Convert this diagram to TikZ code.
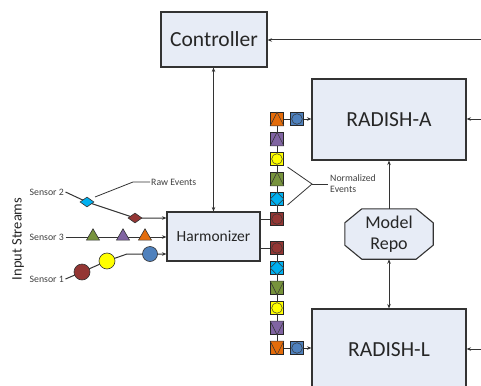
\documentclass[tikz,border=0pt]{standalone}
\usepackage{fontspec}
\setmainfont{Carlito}
\usetikzlibrary{arrows.meta,shapes.geometric}
\pgfdeclarelayer{bg}
\pgfsetlayers{bg,main}

\definecolor{boxC}{HTML}{E7ECF6}
\definecolor{lineC}{HTML}{333333}
\definecolor{textC}{HTML}{262626}
\definecolor{lblC}{HTML}{404040}
\definecolor{evOrange}{HTML}{E46C0A}
\definecolor{evPurple}{HTML}{8064A2}
\definecolor{evYellow}{HTML}{FFFF00}
\definecolor{evGreen}{HTML}{77933C}
\definecolor{evCyan}{HTML}{00B0F0}
\definecolor{evRed}{HTML}{943634}
\definecolor{evBlue}{HTML}{4F81BD}

% event symbols stacked in the normalized streams
\newcommand\evtri[3]{\node[evbox,fill=#3] (#1) at #2 {};
  \filldraw[evmark,fill=#3] (#1.south west) -- (#1.north) -- (#1.south east) -- cycle;}
\newcommand\evinv[3]{\node[evbox,fill=#3] (#1) at #2 {};
  \filldraw[evmark,fill=#3] (#1.north west) -- (#1.south) -- (#1.north east) -- cycle;}
\newcommand\evdot[3]{\node[evbox,fill=#3] (#1) at #2 {};
  \filldraw[evmark,fill=#3] (#1.center) circle[radius=5.3pt];}
\newcommand\evdia[3]{\node[evbox,fill=#3] (#1) at #2 {};
  \filldraw[evmark,fill=#3] (#1.north) -- (#1.east) -- (#1.south) -- (#1.west) -- cycle;}

\begin{document}
\begin{tikzpicture}[x=1pt,y=-1pt,
  box/.style={draw=lineC, line width=1.1pt, fill=boxC, inner sep=0pt, text=textC,
    font=\fontsize{21.5}{25}\selectfont},
  conn/.style={draw=lineC, line width=1pt},
  thin conn/.style={draw=lineC, line width=0.8pt},
  tip/.style={-{Stealth[length=4.5pt,width=3.5pt]}},
  tips/.style={{Stealth[length=4.5pt,width=3.5pt]}-{Stealth[length=4.5pt,width=3.5pt]}},
  evbox/.style={draw=black!85, line width=0.6pt, minimum size=13pt, inner sep=0pt},
  evmark/.style={draw=black!80, line width=0.5pt},
  lbl/.style={text=lblC, inner sep=1.5pt, font=\fontsize{9.8}{11}\selectfont},
  sym/.style={draw=black!80, line width=0.6pt, inner sep=0pt}]

\useasboundingbox (0,0) rectangle (481,385);

% main blocks
\node[box, minimum width=106pt, minimum height=55pt] (ctrl) at (214,39.5) {Controller};
\node[box, minimum width=154pt, minimum height=81pt] (ra) at (389,119.5) {RADISH-A};
\node[box, minimum width=154pt, minimum height=82pt] (rl) at (389,350) {RADISH-L};
\node[box, minimum width=93pt, minimum height=49pt,
  font=\fontsize{15.5}{18}\selectfont] (harm) at (213.5,236.5) {Harmonizer};
\node[inner sep=0pt, minimum width=88pt, minimum height=50pt, align=center, text=textC,
  font=\fontsize{18}{21.5}\selectfont] (repo) at (389,234) {Model\\Repo};

% free ends of the incoming control lines
\coordinate (eC) at (481,40);
\coordinate (eA) at (481,119);
\coordinate (eL) at (481,349);

% sensors and their raw event streams
\node[lbl, anchor=east] (s2) at (65.5,192) {Sensor 2};
\node[lbl, anchor=east] (s3) at (65.5,237) {Sensor 3};
\node[lbl, anchor=east] (s1) at (65.5,279) {Sensor 1};
\node[text=textC, rotate=90, font=\fontsize{14.5}{17}\selectfont] (inp) at (18,239) {Input Streams};

\node[sym, diamond, fill=evCyan, minimum width=14pt, minimum height=10pt] (d1) at (87,202) {};
\node[sym, diamond, fill=evRed, minimum width=14pt, minimum height=10pt] (d2) at (135,218) {};
\node[sym, regular polygon, regular polygon sides=3, minimum size=15pt, fill=evGreen] (t1) at (93,236.3) {};
\node[sym, regular polygon, regular polygon sides=3, minimum size=15pt, fill=evPurple] (t2) at (123,236.3) {};
\node[sym, regular polygon, regular polygon sides=3, minimum size=15pt, fill=evOrange] (t3) at (145,236.3) {};
\node[sym, circle, minimum size=16pt, fill=evRed] (c1) at (82,272) {};
\node[sym, circle, minimum size=16pt, fill=evYellow] (c2) at (107,261) {};
\node[sym, circle, minimum size=15pt, fill=evBlue] (c3) at (150,254) {};
\coordinate (k1) at (127,254);

% callout labels
\coordinate (rA) at (95,197);
\coordinate (rJ) at (133,182);
\coordinate (rE) at (150,182);
\node[lbl, anchor=west, inner sep=1pt] (rlab) at (rE) {Raw Events};

\coordinate (nA) at (287.5,167);
\coordinate (nB) at (287.5,205);
\coordinate (nJ) at (312,184);
\coordinate (nE) at (328,184);
\node[lbl, anchor=west, align=left, inner sep=2pt] (nlab) at (nE) {Normalized\\Events};

% normalized event stream to RADISH-A
\evtri{u1}{(277,119)}{evOrange}
\evtri{u2}{(277,139)}{evPurple}
\evdot{u3}{(277,159)}{evYellow}
\evtri{u4}{(277,179)}{evGreen}
\evdia{u5}{(277,199)}{evCyan}
\evdot{u6}{(277,219)}{evRed}
\evdot{ua}{(297,119)}{evBlue}

% normalized event stream to RADISH-L
\evdot{l1}{(277,248)}{evRed}
\evdia{l2}{(277,268)}{evCyan}
\evinv{l3}{(277,288)}{evGreen}
\evdot{l4}{(277,308)}{evYellow}
\evinv{l5}{(277,328)}{evPurple}
\evinv{l6}{(277,348)}{evOrange}
\evdot{lb}{(297,348)}{evBlue}

\begin{pgfonlayer}{bg}
  % Model Repo octagon
  \filldraw[draw=lineC, line width=1.1pt, fill=boxC]
    ([xshift=17pt]repo.north west) -- ([xshift=-17pt]repo.north east)
    -- ([yshift=-14pt]repo.north east) -- ([yshift=14pt]repo.south east)
    -- ([xshift=-17pt]repo.south east) -- ([xshift=17pt]repo.south west)
    -- ([yshift=14pt]repo.south west) -- ([yshift=-14pt]repo.north west) -- cycle;

  % control and model paths
  \draw[conn,tip] (eC) -- (eC -| ctrl.east);
  \draw[conn,tip] (eA) -- (eA -| ra.east);
  \draw[conn,tip] (eL) -- (eL -| rl.east);
  \draw[conn,tips] (harm.north |- ctrl.south) -- (harm.north);
  \draw[conn,tip] (repo.north) -- (ra.south);
  \draw[conn,tips] (repo.south) -- (rl.north);

  % raw streams into the Harmonizer
  \draw[conn,tip] (s2.east) -- (d1.center) -- (d2.center) -- (d2 -| harm.west);
  \draw[conn,tip] (s3.east) -- (s3.east -| harm.west);
  \draw[conn,tip] (s1.east) -- (c1.center) -- (c2.center) -- (k1) -- (c3.center) -- (c3 -| harm.west);

  % normalized streams out of the Harmonizer
  \draw[thin conn] (harm.east |- u6) -- (u6);
  \draw[thin conn] (harm.east |- l1) -- (l1);
  \draw[thin conn] (u1) -- (u2) -- (u3) -- (u4) -- (u5) -- (u6);
  \draw[thin conn] (l1) -- (l2) -- (l3) -- (l4) -- (l5) -- (l6);
  \draw[thin conn] (u1) -- (ua);
  \draw[thin conn] (l6) -- (lb);
  \draw[thin conn,tip] (ua) -- (ua -| ra.west);
  \draw[thin conn,tip] (lb) -- (lb -| rl.west);

  % callout lines
  \draw[thin conn] (rA) -- (rJ) -- (rE);
  \draw[thin conn] (nA) -- (nJ) -- (nB);
  \draw[thin conn] (nJ) -- (nE);
\end{pgfonlayer}
\end{tikzpicture}
\end{document}
